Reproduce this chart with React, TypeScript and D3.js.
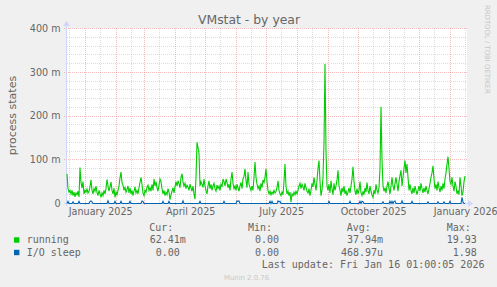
import React from 'react';
import * as d3 from 'd3';

// ---- data (values in milli-units, one per day) ----
const title = 'VMstat - by year';
const yAxisLabel = 'process states';
const yTickValues = [0, 100, 200, 300, 400];
const yTickLabels = ['0', '100 m', '200 m', '300 m', '400 m'];
const xLabelTexts = ['January 2025', 'April 2025', 'July 2025', 'October 2025', 'January 2026'];
const xLabelMonths = ['2025-01', '2025-04', '2025-07', '2025-10', '2026-01'];
const seriesNames = ['running', 'I/O sleep'];
const seriesColors = ['#00CC00', '#0066B3'];
const legendCur = ['62.41m', ' 0.00'];
const legendMin = [' 0.00', ' 0.00'];
const legendAvg = ['37.94m', '468.97u'];
const legendMax = ['19.93', ' 1.98'];
const lastUpdate = 'Last update: Fri Jan 16 01:00:05 2026';

const running = [
  68, 34, 26, 30, 22, 30, 18, 26, 15, 24,
  20, 28, 15, 82, 49, 35, 50, 22, 30, 26,
  33, 24, 28, 38, 54, 30, 22, 34, 28, 40,
  25, 18, 30, 22, 14, 24, 18, 30, 22, 34,
  55, 40, 28, 38, 49, 30, 22, 35, 14, 26,
  20, 30, 40, 58, 72, 48, 42, 30, 38, 26,
  32, 40, 24, 36, 22, 30, 18, 28, 38, 24,
  30, 22, 36, 48, 60, 44, 24, 18, 30, 26,
  38, 42, 30, 36, 28, 44, 30, 56, 40, 50,
  36, 28, 42, 56, 50, 34, 22, 30, 18, 26,
  20, 34, 26, 9, 20, 28, 36, 24, 38, 50,
  40, 52, 45, 36, 60, 68, 50, 40, 46, 34,
  42, 38, 30, 44, 36, 28, 40, 22, 10, 60,
  140, 128, 115, 40, 50, 44, 37, 56, 40, 30,
  22, 40, 52, 34, 44, 30, 40, 46, 34, 28,
  42, 34, 40, 30, 44, 38, 56, 50, 40, 56,
  48, 36, 44, 30, 56, 72, 46, 34, 40, 30,
  44, 36, 28, 40, 48, 34, 56, 62, 79, 52,
  36, 72, 44, 37, 30, 40, 30, 60, 95, 60,
  44, 34, 40, 28, 46, 36, 54, 48, 60, 79,
  50, 30, 22, 28, 20, 26, 22, 30, 24, 28,
  36, 52, 30, 22, 18, 26, 20, 50, 90, 40,
  22, 28, 18, 26, 3, 22, 18, 26, 20, 28,
  22, 30, 40, 46, 34, 44, 38, 30, 46, 36,
  28, 24, 34, 18, 30, 46, 38, 60, 44, 30,
  52, 80, 98, 50, 18, 30, 60, 140, 319, 120,
  40, 30, 44, 24, 52, 34, 20, 46, 30, 40,
  54, 76, 40, 30, 18, 36, 26, 40, 22, 30,
  18, 26, 36, 24, 40, 56, 84, 50, 28, 20,
  34, 22, 30, 50, 24, 18, 28, 20, 36, 26,
  48, 30, 22, 40, 28, 20, 14, 30, 22, 44,
  30, 24, 36, 80, 221, 100, 40, 28, 36, 24,
  40, 50, 34, 22, 40, 60, 40, 30, 46, 60,
  44, 28, 50, 64, 76, 40, 60, 80, 98, 70,
  90, 60, 30, 44, 30, 22, 36, 24, 40, 30,
  20, 30, 40, 28, 46, 34, 24, 36, 26, 40,
  30, 22, 34, 46, 60, 70, 86, 56, 34, 44,
  30, 50, 36, 26, 40, 30, 46, 34, 56, 70,
  90, 107, 80, 50, 44, 60, 40, 28, 50, 40,
  22, 30, 20, 60, 40, 18, 26, 50, 62.41,
];

const ioSleep = [
  0, 5, 0, 0, 0, 0, 4, 0, 0, 0,
  0, 0, 5, 0, 0, 0, 0, 0, 0, 0,
  0, 0, 0, 5, 6, 4, 0, 0, 0, 0,
  0, 0, 0, 0, 0, 0, 0, 0, 0, 0,
  0, 6, 0, 0, 0, 0, 0, 0, 5, 0,
  0, 0, 0, 0, 5, 0, 0, 0, 0, 0,
  0, 0, 0, 5, 0, 0, 0, 0, 0, 0,
  0, 0, 0, 0, 0, 6, 5, 0, 0, 0,
  0, 0, 0, 0, 0, 0, 0, 0, 0, 0,
  0, 0, 0, 0, 0, 0, 5, 0, 0, 0,
  0, 0, 5, 0, 0, 0, 0, 0, 0, 0,
  0, 0, 0, 0, 0, 0, 6, 0, 0, 0,
  0, 0, 0, 0, 0, 0, 0, 0, 0, 0,
  0, 0, 0, 5, 0, 0, 0, 0, 0, 0,
  0, 0, 0, 0, 0, 0, 0, 0, 0, 0,
  0, 0, 0, 0, 0, 0, 0, 5, 0, 0,
  0, 0, 0, 0, 0, 0, 0, 0, 0, 0,
  6, 5, 6, 0, 0, 0, 0, 0, 0, 0,
  0, 0, 0, 0, 0, 0, 0, 0, 0, 0,
  0, 0, 0, 0, 0, 0, 0, 0, 0, 0,
  0, 0, 0, 5, 0, 5, 0, 0, 0, 0,
  0, 6, 4, 5, 0, 0, 0, 0, 0, 0,
  0, 0, 0, 0, 0, 0, 0, 0, 0, 0,
  0, 0, 0, 0, 0, 0, 0, 0, 0, 0,
  0, 0, 0, 0, 0, 0, 0, 0, 0, 0,
  0, 0, 0, 0, 0, 0, 0, 0, 0, 0,
  0, 0, 5, 0, 0, 0, 0, 0, 0, 0,
  0, 0, 0, 0, 0, 0, 0, 0, 0, 0,
  0, 0, 0, 5, 0, 0, 0, 0, 0, 0,
  0, 0, 0, 5, 0, 5, 4, 0, 0, 0,
  0, 0, 0, 0, 0, 0, 0, 0, 0, 0,
  0, 0, 0, 0, 0, 0, 4, 0, 0, 0,
  0, 0, 0, 5, 0, 5, 0, 5, 6, 0,
  0, 0, 0, 0, 0, 6, 0, 0, 0, 0,
  0, 0, 0, 0, 0, 5, 0, 0, 0, 0,
  0, 0, 0, 0, 0, 0, 0, 0, 0, 0,
  0, 4, 0, 0, 0, 0, 0, 0, 0, 0,
  0, 4, 0, 0, 0, 0, 0, 4, 0, 0,
  0, 0, 0, 5, 0, 0, 0, 0, 0, 0,
  0, 0, 0, 0, 0, 14, 3, 0, 0,
];

// ---- layout ----
const W = 497;
const H = 287;
const X0 = 67;
const X1 = 467;
const Y0 = 203.5;
const Y1 = 28.5;
const DAY = 86400000;
const startMs = Date.UTC(2024, 11, 13, 7);
const endMs = startMs + 400 * DAY;

const FONT = '"DejaVu Sans", Verdana, sans-serif';
const MONO = '"DejaVu Sans Mono", monospace';
const TEXT = '#666666';
const AXIS = '#CFD6F8';
const GRID = 'rgba(150,150,150,0.32)';
const MGRID = 'rgba(225,90,90,0.4)';

export default function App() {
  const x = d3.scaleUtc().domain([new Date(startMs), new Date(endMs)]).range([X0, X1]);
  const y = d3.scaleLinear().domain([0, 400]).range([Y0, Y1]);
  const dateAt = (i: number) => new Date(startMs + i * DAY);
  const px = (v: number) => Math.round(v - 0.5) + 0.5;

  const lineGen = d3
    .line<number>()
    .x((_, i) => x(dateAt(i)))
    .y((d) => y(d));

  const monthStarts = d3.utcMonth.range(new Date(startMs), new Date(endMs));
  const midMonths = d3.utcMonth
    .range(d3.utcMonth.offset(new Date(startMs), -1), new Date(endMs))
    .map((m) => d3.utcDay.offset(m, 15))
    .filter((d) => +d > startMs && +d < endMs);

  const minorY = d3.range(20, 401, 20).filter((v) => v % 100 !== 0);
  const majorY = yTickValues.filter((v) => v > 0);

  const labelDates = xLabelMonths.map((m) => {
    const [yy, mm] = m.split('-').map(Number);
    return d3.utcDay.offset(new Date(Date.UTC(yy, mm - 1, 1)), 15);
  });

  const legendRows = [243.3, 255.8];

  return (
    <svg
      width={W}
      height={H}
      style={{ position: 'absolute', left: 0, top: 0, background: '#F0F0F0' }}
    >
      <rect x={0} y={0} width={W} height={H} fill="#F0F0F0" />
      <rect x={X0} y={28} width={X1 - X0} height={175} fill="#FFFFFF" />

      {/* minor grid */}
      <g stroke={GRID} strokeWidth={1} strokeDasharray="1,1" shapeRendering="crispEdges">
        {minorY.map((v) => (
          <line key={'hy' + v} x1={X0} x2={X1} y1={px(y(v))} y2={px(y(v))} />
        ))}
        {midMonths.map((d, i) => (
          <line key={'vx' + i} x1={px(x(d))} x2={px(x(d))} y1={28} y2={203} />
        ))}
      </g>
      {/* major grid */}
      <g stroke={MGRID} strokeWidth={1} strokeDasharray="1,1" shapeRendering="crispEdges">
        {majorY.map((v) => (
          <line key={'my' + v} x1={X0 - 3} x2={X1} y1={px(y(v))} y2={px(y(v))} />
        ))}
        {monthStarts.map((d, i) => (
          <line key={'mx' + i} x1={px(x(d))} x2={px(x(d))} y1={28} y2={206} />
        ))}
      </g>

      {/* axes */}
      <g stroke={AXIS} strokeWidth={1} shapeRendering="crispEdges">
        <line x1={X0 - 3} x2={X1 + 2} y1={203.5} y2={203.5} />
        <line x1={66.5} x2={66.5} y1={206} y2={24} />
      </g>
      <polygon points={`${X1 + 1},200 ${X1 + 1},207 ${X1 + 6},203.5`} fill={AXIS} />
      <polygon points="63,26 70,26 66.5,21" fill={AXIS} />

      {/* series */}
      <path d={lineGen(running) || ''} fill="none" stroke={seriesColors[0]} strokeWidth={1.1} />
      <path d={lineGen(ioSleep) || ''} fill="none" stroke={seriesColors[1]} strokeWidth={1.1} />

      {/* y tick labels */}
      <g fontFamily={FONT} fontSize={9.6} fill={TEXT} textAnchor="end">
        {yTickValues.map((v, i) => (
          <text key={'yl' + v} x={60.5} y={y(v) + 3.4}>
            {yTickLabels[i]}
          </text>
        ))}
      </g>
      {/* x labels */}
      <g fontFamily={FONT} fontSize={9.6} fill={TEXT} textAnchor="middle">
        {labelDates.map((d, i) => (
          <text key={'xl' + i} x={x(d)} y={214.8}>
            {xLabelTexts[i]}
          </text>
        ))}
      </g>

      {/* title */}
      <text x={249} y={24} fontFamily={FONT} fontSize={12.4} fill={TEXT} textAnchor="middle">
        {title}
      </text>
      {/* y axis title */}
      <text
        transform={`translate(15.5, ${(28 + 203) / 2}) rotate(-90)`}
        fontFamily={FONT}
        fontSize={11}
        fill={TEXT}
        textAnchor="middle"
      >
        {yAxisLabel}
      </text>
      {/* watermark */}
      <text
        transform="translate(485, 5) rotate(90)"
        fontFamily={FONT}
        fontSize={6.9}
        fill="#C4C4C4"
      >
        RRDTOOL / TOBI OETIKER
      </text>

      {/* legend */}
      <g fontFamily={MONO} fontSize={10} fill={TEXT} style={{ whiteSpace: 'pre' }}>
        <text x={149.3} y={231}>Cur:</text>
        <text x={248} y={231}>Min:</text>
        <text x={346.7} y={231}>Avg:</text>
        <text x={446.7} y={231}>Max:</text>
        {seriesNames.map((n, i) => (
          <g key={n}>
            <rect x={14} y={legendRows[i] - 6} width={5.4} height={5.4} fill={seriesColors[i]} />
            <text x={26.7} y={legendRows[i]}>{n}</text>
            <text x={149.7} y={legendRows[i]} xmlSpace="preserve">{legendCur[i]}</text>
            <text x={249} y={legendRows[i]} xmlSpace="preserve">{legendMin[i]}</text>
            <text x={341} y={legendRows[i]} xmlSpace="preserve">
              {legendAvg[i].length < 7 ? ' ' + legendAvg[i] : legendAvg[i]}
            </text>
            <text x={446.7} y={legendRows[i]} xmlSpace="preserve">{legendMax[i]}</text>
          </g>
        ))}
        <text x={261.7} y={267.8}>{lastUpdate}</text>
      </g>
      <text x={246.5} y={280} fontFamily={FONT} fontSize={6.9} fill="#C8C8C8" textAnchor="middle">
        Munin 2.0.76
      </text>
    </svg>
  );
}
